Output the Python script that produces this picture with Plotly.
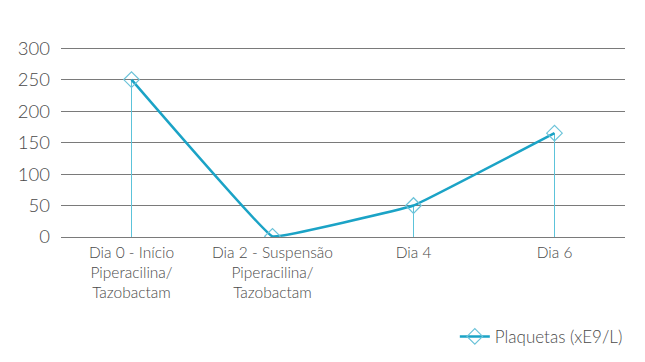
import plotly.graph_objects as go

categories = ["Dia 0 - Início<br>Piperacilina/<br>Tazobactam",
              "Dia 2 - Suspensão<br>Piperacilina/<br>Tazobactam",
              "Dia 4", "Dia 6"]
plaquetas = [250, 1, 50, 165]
series_name = "Plaquetas (xE9/L)"
y_ticks = [0, 50, 100, 150, 200, 250, 300]

fig = go.Figure()
fig.add_trace(go.Scatter(
    x=categories, y=plaquetas, name=series_name,
    mode="lines+markers",
    line=dict(color="#1ba3c6", width=2.5, shape="spline", smoothing=0.15),
    marker=dict(symbol="diamond-open", size=12, color="#6cc3d9", line=dict(width=1.2)),
    error_y=dict(type="data", symmetric=False, array=[0]*len(plaquetas),
                 arrayminus=plaquetas, color="#5cc3da", thickness=1, width=0),
))
fig.update_layout(
    width=637, height=354,
    margin=dict(l=53, r=20, t=37, b=125, autoexpand=False),
    paper_bgcolor="white", plot_bgcolor="white",
    font=dict(family="Lato", size=16, color="#4a4a4a", weight=300),
    xaxis=dict(type="category", range=[-0.5, 3.5], showgrid=False, automargin=False,
               showline=False, ticks="", ticklabelstandoff=4,
               tickfont=dict(size=15.5, weight=300, color="#4a4a4a")),
    yaxis=dict(range=[0, 305], tickvals=y_ticks, showgrid=True, automargin=False,
               gridcolor="#7a7a7a", gridwidth=1, zeroline=True,
               zerolinecolor="#7a7a7a", zerolinewidth=1, ticks="",
               ticklabelstandoff=10, tickfont=dict(size=18.5, weight=300, color="#4a4a4a")),
    legend=dict(orientation="h", x=1.005, xanchor="right", y=-0.52, yanchor="middle",
                font=dict(size=17, weight=300, color="#4a4a4a")),
    showlegend=True,
)
fig.write_html("out.html")
